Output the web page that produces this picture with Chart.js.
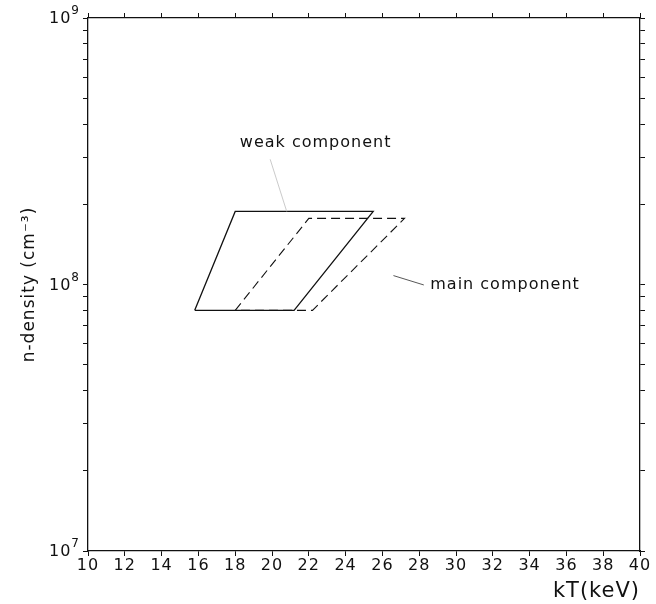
<!DOCTYPE html>
<html>
<head>
<meta charset="utf-8">
<script src="https://cdn.jsdelivr.net/npm/chart.js@4.4.1/dist/chart.umd.min.js"></script>
<style>
  html, body { margin: 0; padding: 0; background: #fff; }
  #wrap { width: 656px; height: 604px; position: relative; }
</style>
</head>
<body>
<div id="wrap"><canvas id="c"></canvas></div>
<script>
// Allowed (kT, n) regions for the two spectral components
const weakKT = [15.8, 18.0, 25.5, 21.2, 15.8];
const weakN  = [8.0e7, 1.88e8, 1.88e8, 8.0e7, 8.0e7];
const mainKT = [18.0, 22.0, 27.2, 22.2, 18.0];
const mainN  = [8.0e7, 1.77e8, 1.77e8, 8.0e7, 8.0e7];

// Axis ranges and tick labels
const kTMin = 10, kTMax = 40, kTStep = 2;
const nDecades = [1e7, 1e8, 1e9];
const decadeBase = '10';
const decadeExp = ['7', '8', '9'];

// Annotation labels with their leader lines (data coordinates)
const labelTexts = ['weak component', 'main component'];
const labelAt = [[18.25, 3.4e8], [28.6, 1.0e8]];
const leaderFrom = [[19.9, 2.95e8], [26.6, 1.08e8]];
const leaderTo = [[20.8, 1.88e8], [28.25, 9.96e7]];

const pts = (xs, ys) => xs.map((x, i) => ({ x: x, y: ys[i] }));

function logTicks(scale) {
  const t = [];
  for (let d = 0; d < nDecades.length; d++) {
    const base = nDecades[d];
    const top = d === nDecades.length - 1 ? 1 : 9;
    for (let m = 1; m <= top; m++) t.push({ value: m * base });
  }
  scale.ticks = t;
}

const INK = '#111';
const FONT = "'DejaVu Sans', sans-serif";

const gridStyle = {
  drawOnChartArea: false,
  drawTicks: true,
  tickLength: 5,
  color: INK,
  lineWidth: 1
};
const borderStyle = { color: INK, width: 1.3 };

// Slightly spaced lettering, like a pen plotter
const spacing = {
  id: 'spacing',
  beforeDraw(chart) { chart.ctx.letterSpacing = '1px'; }
};

// Decade labels with raised exponents on the density axis
const decadeLabels = {
  id: 'decadeLabels',
  afterDraw(chart) {
    const ctx = chart.ctx;
    const ys = chart.scales.y;
    const right = ys.right - 5 - 3;
    ctx.save();
    ctx.fillStyle = INK;
    ctx.letterSpacing = '1px';
    ctx.textBaseline = 'middle';
    for (let i = 0; i < nDecades.length; i++) {
      const py = ys.getPixelForValue(nDecades[i]);
      ctx.font = '12px ' + FONT;
      const ew = ctx.measureText(decadeExp[i]).width;
      ctx.textAlign = 'right';
      ctx.fillText(decadeExp[i], right, py - 7);
      ctx.font = '16px ' + FONT;
      ctx.fillText(decadeBase, right - ew, py + 1);
    }
    ctx.restore();
  }
};

const annotations = {
  id: 'annotations',
  afterDatasetsDraw(chart) {
    const ctx = chart.ctx;
    const xs = chart.scales.x, ys = chart.scales.y;
    ctx.save();
    for (let i = 0; i < labelTexts.length; i++) {
      ctx.strokeStyle = i === 0 ? '#c4c4c4' : '#444';
      ctx.lineWidth = 0.9;
      ctx.beginPath();
      ctx.moveTo(xs.getPixelForValue(leaderFrom[i][0]), ys.getPixelForValue(leaderFrom[i][1]));
      ctx.lineTo(xs.getPixelForValue(leaderTo[i][0]), ys.getPixelForValue(leaderTo[i][1]));
      ctx.stroke();
      ctx.fillStyle = INK;
      ctx.font = '16px ' + FONT;
      ctx.letterSpacing = '1px';
      ctx.textAlign = 'left';
      ctx.textBaseline = 'middle';
      ctx.fillText(labelTexts[i], xs.getPixelForValue(labelAt[i][0]), ys.getPixelForValue(labelAt[i][1]));
    }
    ctx.restore();
  }
};

new Chart(document.getElementById('c'), {
  type: 'scatter',
  data: {
    datasets: [
      {
        label: 'weak component',
        data: pts(weakKT, weakN),
        showLine: true,
        borderColor: INK,
        borderWidth: 1.3,
        pointRadius: 0,
        fill: false,
        tension: 0
      },
      {
        label: 'main component',
        data: pts(mainKT, mainN),
        showLine: true,
        borderColor: INK,
        borderWidth: 1.1,
        borderDash: [9, 5],
        pointRadius: 0,
        fill: false,
        tension: 0
      }
    ]
  },
  options: {
    responsive: true,
    maintainAspectRatio: false,
    animation: false,
    layout: { padding: 0 },
    plugins: {
      legend: { display: false },
      tooltip: { enabled: false }
    },
    scales: {
      x: {
        type: 'linear',
        position: 'bottom',
        min: kTMin,
        max: kTMax,
        grid: gridStyle,
        border: borderStyle,
        ticks: {
          stepSize: kTStep,
          color: INK,
          font: { family: FONT, size: 16 },
          padding: 0,
          maxRotation: 0,
          autoSkip: false
        },
        title: {
          display: true,
          text: 'kT(keV)',
          align: 'end',
          color: INK,
          font: { family: FONT, size: 21 },
          padding: { top: 0, bottom: 0 }
        },
        afterFit(s) { s.height = 53; }
      },
      x2: {
        type: 'linear',
        position: 'top',
        min: kTMin,
        max: kTMax,
        grid: gridStyle,
        border: borderStyle,
        ticks: { stepSize: kTStep, display: false },
        afterFit(s) { s.height = 18; }
      },
      y: {
        type: 'logarithmic',
        position: 'left',
        min: 1e7,
        max: 1e9,
        grid: gridStyle,
        border: borderStyle,
        afterBuildTicks: logTicks,
        ticks: {
          color: INK,
          padding: 3,
          autoSkip: false,
          callback() { return ''; }
        },
        title: {
          display: true,
          text: 'n-density (cm\u207B\u00B3)',
          color: INK,
          font: { family: FONT, size: 17 },
          padding: { top: 19, bottom: 0 }
        },
        afterFit(s) { s.width = 88; }
      },
      y2: {
        type: 'logarithmic',
        position: 'right',
        min: 1e7,
        max: 1e9,
        grid: gridStyle,
        border: borderStyle,
        afterBuildTicks: logTicks,
        ticks: { display: false },
        afterFit(s) { s.width = 16; }
      }
    }
  },
  plugins: [spacing, decadeLabels, annotations]
});
</script>
</body>
</html>
